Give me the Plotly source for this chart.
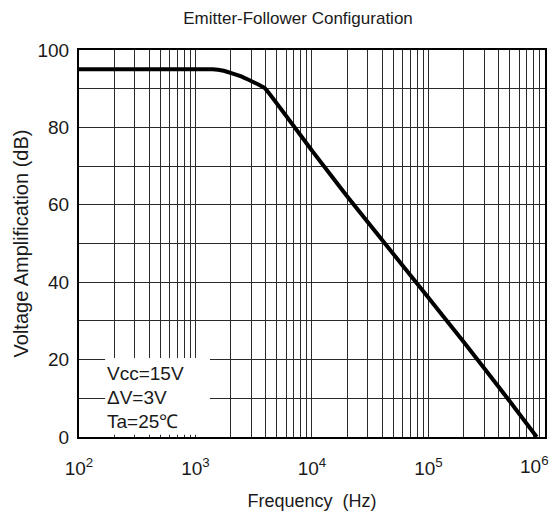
import plotly.graph_objects as go

# ---- data ----
freq_hz = [100, 1000, 1400, 1700, 2000, 2400, 3000, 3500, 3980,
           10000, 20000, 100000, 200000, 500000, 850000]
gain_db = [95.0, 95.0, 95.0, 94.7, 94.1, 93.3, 92.0, 91.0, 90.0,
           74.0, 62.2, 36.0, 24.6, 9.2, 0.0]

decades = [2, 3, 4, 5]
x_major_labels = ["10<sup>2</sup>", "10<sup>3</sup>", "10<sup>4</sup>",
                  "10<sup>5</sup>"]
last_x_label = "10<sup>6</sup>"
y_tick_values = [0, 10, 20, 30, 40, 50, 60, 70, 80, 90, 100]
y_tick_labels = ["0", "", "20", "", "40", "", "60", "", "80", "", "100"]
conditions = ["Vcc=15V", "\u0394V=3V", "Ta=25\u2103"]

# ---- build tick lists ----
x_tick_vals, x_tick_text = [], []
for i, d in enumerate(decades):
    for m in range(1, 10):
        x_tick_vals.append(m * 10 ** d)
        x_tick_text.append(x_major_labels[i] if m == 1 else "")
x_tick_vals.append(10 ** 6)
x_tick_text.append("")

FONT = "Liberation Sans, Arial, sans-serif"
TXT = "#1a1a1a"

fig = go.Figure()
fig.add_trace(go.Scatter(
    x=freq_hz, y=gain_db, mode="lines",
    line=dict(color="black", width=4, shape="spline", smoothing=0.3),
    hoverinfo="skip", showlegend=False,
))

fig.update_layout(
    width=552, height=516,
    margin=dict(l=79, r=7, t=50, b=79),
    paper_bgcolor="white", plot_bgcolor="white",
    font=dict(family=FONT, color=TXT, size=15),
    title=dict(text="Emitter-Follower Configuration", font=dict(size=17, color=TXT),
               x=0.47, xref="paper", xanchor="center",
               y=0.965, yref="container", yanchor="middle"),
    showlegend=False,
)

fig.update_xaxes(
    type="log", range=[2, 6.0002], automargin=False,
    tickmode="array", tickvals=x_tick_vals, ticktext=x_tick_text,
    ticks="", ticklabelstandoff=13, tickfont=dict(size=19, color=TXT),
    ticklabeloverflow="allow",
    showgrid=True, gridcolor="#2a2a2a", gridwidth=1.3,
    showline=True, mirror=True, linecolor="black", linewidth=2,
    zeroline=False,
    title=dict(text="Frequency  (Hz)", font=dict(size=18, color=TXT), standoff=17),
)
fig.update_yaxes(
    range=[0, 100], automargin=False,
    tickmode="array", tickvals=y_tick_values, ticktext=y_tick_labels,
    ticks="", ticklabelstandoff=4, tickfont=dict(size=19, color=TXT),
    ticklabeloverflow="allow",
    showgrid=True, gridcolor="#2a2a2a", gridwidth=1.3,
    showline=True, mirror=True, linecolor="black", linewidth=2,
    zeroline=False,
    title=dict(text="Voltage Amplification (dB)", font=dict(size=20, color=TXT), standoff=3),
)

# last decade label, kept inside the page like in the reference
fig.add_annotation(text=last_x_label, xref="x", yref="paper", x=6, y=-0.073,
                   xanchor="right", yanchor="middle", xshift=6,
                   showarrow=False, font=dict(size=19, color=TXT))

# white box behind the condition text
fig.add_shape(type="rect", xref="paper", yref="paper",
              x0=0.056, x1=0.281, y0=0.006, y1=0.204,
              fillcolor="white", line=dict(width=0), layer="above")

cond_y = [0.165, 0.103, 0.041]
for t, yy in zip(conditions, cond_y):
    fig.add_annotation(text=t, xref="paper", yref="paper", x=0.056, y=yy,
                       xanchor="left", yanchor="middle", showarrow=False,
                       font=dict(size=19, color=TXT))

fig.write_html("out.html", config={"displayModeBar": False},
               post_script="document.body.style.margin='0';")
